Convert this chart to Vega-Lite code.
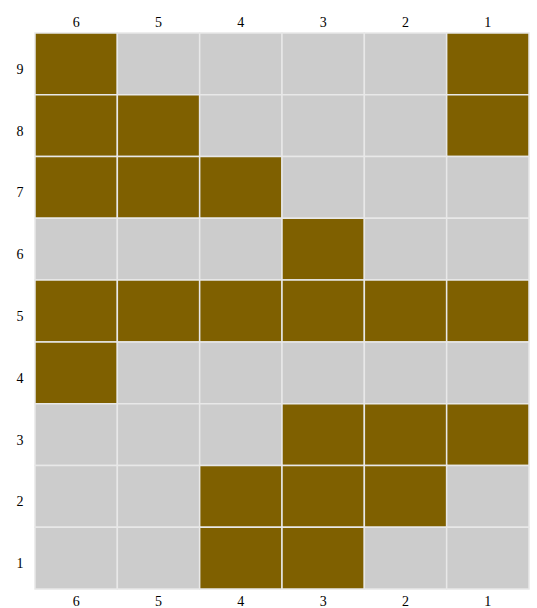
{
  "$schema": "https://vega.github.io/schema/vega-lite/v6.json",
  "autosize": "none",
  "padding": {"left": 35, "top": 33, "right": 8, "bottom": 19},
  "width": 494,
  "height": 556,
  "background": "white",
  "config": {"view": {"stroke": null}, "font": "Liberation Serif"},
  "data": {"values": [
    {"row": 9, "col": 6, "on": 1}, {"row": 9, "col": 5, "on": 0}, {"row": 9, "col": 4, "on": 0}, {"row": 9, "col": 3, "on": 0}, {"row": 9, "col": 2, "on": 0}, {"row": 9, "col": 1, "on": 1},
    {"row": 8, "col": 6, "on": 1}, {"row": 8, "col": 5, "on": 1}, {"row": 8, "col": 4, "on": 0}, {"row": 8, "col": 3, "on": 0}, {"row": 8, "col": 2, "on": 0}, {"row": 8, "col": 1, "on": 1},
    {"row": 7, "col": 6, "on": 1}, {"row": 7, "col": 5, "on": 1}, {"row": 7, "col": 4, "on": 1}, {"row": 7, "col": 3, "on": 0}, {"row": 7, "col": 2, "on": 0}, {"row": 7, "col": 1, "on": 0},
    {"row": 6, "col": 6, "on": 0}, {"row": 6, "col": 5, "on": 0}, {"row": 6, "col": 4, "on": 0}, {"row": 6, "col": 3, "on": 1}, {"row": 6, "col": 2, "on": 0}, {"row": 6, "col": 1, "on": 0},
    {"row": 5, "col": 6, "on": 1}, {"row": 5, "col": 5, "on": 1}, {"row": 5, "col": 4, "on": 1}, {"row": 5, "col": 3, "on": 1}, {"row": 5, "col": 2, "on": 1}, {"row": 5, "col": 1, "on": 1},
    {"row": 4, "col": 6, "on": 1}, {"row": 4, "col": 5, "on": 0}, {"row": 4, "col": 4, "on": 0}, {"row": 4, "col": 3, "on": 0}, {"row": 4, "col": 2, "on": 0}, {"row": 4, "col": 1, "on": 0},
    {"row": 3, "col": 6, "on": 0}, {"row": 3, "col": 5, "on": 0}, {"row": 3, "col": 4, "on": 0}, {"row": 3, "col": 3, "on": 1}, {"row": 3, "col": 2, "on": 1}, {"row": 3, "col": 1, "on": 1},
    {"row": 2, "col": 6, "on": 0}, {"row": 2, "col": 5, "on": 0}, {"row": 2, "col": 4, "on": 1}, {"row": 2, "col": 3, "on": 1}, {"row": 2, "col": 2, "on": 1}, {"row": 2, "col": 1, "on": 0},
    {"row": 1, "col": 6, "on": 0}, {"row": 1, "col": 5, "on": 0}, {"row": 1, "col": 4, "on": 1}, {"row": 1, "col": 3, "on": 1}, {"row": 1, "col": 2, "on": 0}, {"row": 1, "col": 1, "on": 0}
  ]},
  "layer": [
    {
      "mark": {"type": "rect", "stroke": "#e8e8e8", "strokeWidth": 1.5},
      "encoding": {
        "x": {"field": "col", "type": "ordinal", "sort": "descending", "scale": {"paddingInner": 0, "paddingOuter": 0},
              "axis": {"orient": "top", "title": null, "ticks": false, "domain": false, "labelAngle": 0, "labelPadding": 4, "labelFontSize": 14, "labelColor": "#000"}},
        "y": {"field": "row", "type": "ordinal", "sort": "descending", "scale": {"paddingInner": 0, "paddingOuter": 0},
              "axis": {"title": null, "ticks": false, "domain": false, "labelPadding": 12, "labelOffset": 6, "labelFontSize": 14, "labelColor": "#000"}},
        "color": {"field": "on", "type": "nominal", "scale": {"domain": [0, 1], "range": ["#cccccc", "#7f6000"]}, "legend": null}
      }
    },
    {
      "mark": {"type": "rect", "opacity": 0},
      "encoding": {
        "x": {"field": "col", "type": "ordinal", "sort": "descending",
              "axis": {"orient": "bottom", "title": null, "ticks": false, "domain": false, "labelAngle": 0, "labelPadding": 5, "labelFontSize": 14, "labelColor": "#000"}},
        "y": {"field": "row", "type": "ordinal", "sort": "descending"}
      }
    }
  ],
  "resolve": {"axis": {"x": "independent"}}
}
